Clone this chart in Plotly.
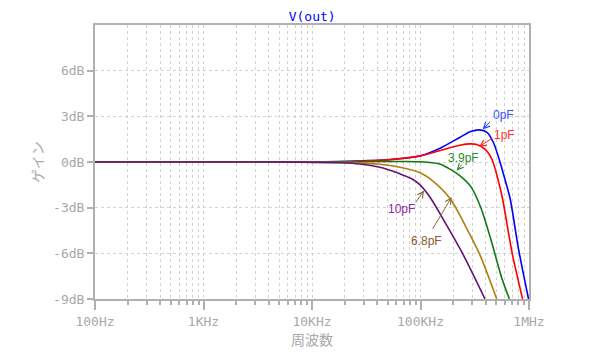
import math
import plotly.graph_objects as go

# ---- data (frequency in Hz, gain in dB) ----
f_0pF = [100, 1000, 10000, 30000, 50000, 100000, 150000, 230000, 290000, 350000, 410000, 470000, 540000, 620000, 670000, 800000, 990000]
g_0pF = [0, 0, 0, 0.08, 0.15, 0.41, 0.89, 1.61, 2.0, 2.11, 1.94, 1.28, 0.0, -1.5, -2.4, -5.7, -9.0]

f_1pF = [100, 1000, 10000, 30000, 50000, 100000, 150000, 230000, 290000, 330000, 400000, 460000, 520000, 570000, 700000, 873000]
g_1pF = [0, 0, 0, 0.07, 0.14, 0.40, 0.74, 1.10, 1.19, 1.15, 0.80, 0.10, -1.2, -2.4, -6.0, -9.0]

f_3p9pF = [100, 1000, 10000, 50000, 100000, 150000, 180000, 230000, 290000, 360000, 450000, 560000, 660000]
g_3p9pF = [0, 0, 0, 0.03, 0.02, -0.13, -0.4, -0.89, -1.6, -3.0, -5.2, -7.6, -9.0]

f_6p8pF = [100, 1000, 10000, 22400, 42400, 64700, 99000, 122000, 187000, 267000, 353000, 504000]
g_6p8pF = [0, 0, -0.01, -0.04, -0.15, -0.35, -0.7, -1.1, -2.4, -4.37, -6.1, -9.0]

f_10pF = [100, 1000, 7700, 18000, 27700, 42400, 64700, 83000, 99000, 122000, 174000, 248000, 393000]
g_10pF = [0, 0, -0.01, -0.05, -0.13, -0.35, -0.78, -1.1, -1.5, -2.3, -4.15, -6.1, -9.0]

x_tickvals = [100, 1000, 10000, 100000, 1000000]
x_ticktext = ["100Hz", "1KHz", "10KHz", "100KHz", "1MHz"]
y_tickvals = [-9, -6, -3, 0, 3, 6]
y_ticktext = ["-9dB", "-6dB", "-3dB", "0dB", "3dB", "6dB"]

# label texts and the point (Hz, dB) each label's arrow points at
label_text = ["0pF", "1pF", "3.9pF", "10pF", "6.8pF"]
label_f = [374000, 348000, 215000, 108000, 194000]
label_db = [2.15, 1.0, -0.57, -1.87, -2.3]

series = [
    ("0pF", f_0pF, g_0pF, "#0000ff"),
    ("1pF", f_1pF, g_1pF, "#ff0000"),
    ("3.9pF", f_3p9pF, g_3p9pF, "#117711"),
    ("6.8pF", f_6p8pF, g_6p8pF, "#b07d10"),
    ("10pF", f_10pF, g_10pF, "#661177"),
]

fig = go.Figure()
for name, f, g, c in series:
    fig.add_trace(go.Scatter(x=f, y=g, mode="lines", name=name,
                             line=dict(color=c, width=1.6, shape="spline", smoothing=0.8),
                             showlegend=False, hoverinfo="skip"))

minor_vals = [m * 10 ** d for d in range(2, 6) for m in range(2, 10)]

grid = "#d2d2d2"
gdash = "3px,3px"
axcol = "#b0b0b0"
tickfont = dict(family="DejaVu Sans Mono", size=13, color="#a8a8a8")

fig.update_xaxes(type="log", range=[2, 6], tickvals=x_tickvals, ticktext=x_ticktext,
                 automargin=False,
                 showline=True, linecolor=axcol, linewidth=2, mirror=True,
                 ticks="outside", ticklen=9, tickwidth=1.5, tickcolor=axcol,
                 showgrid=True, gridcolor=grid, griddash=gdash, gridwidth=1,
                 zeroline=False, tickfont=tickfont,
                 minor=dict(tickvals=minor_vals, ticks="outside", ticklen=4, tickcolor=axcol,
                            showgrid=True, gridcolor=grid, griddash=gdash, gridwidth=1),
                 title=dict(text="周波数", font=dict(family="Noto Sans CJK JP", size=14, color="#a8a8a8"),
                            standoff=6))
fig.update_yaxes(range=[-9, 9], tickvals=y_tickvals, ticktext=y_ticktext,
                 automargin=False,
                 showline=True, linecolor=axcol, linewidth=2, mirror=True,
                 ticks="outside", ticklen=6, tickwidth=1.5, tickcolor=axcol,
                 showgrid=True, gridcolor=grid, griddash=gdash, gridwidth=1,
                 zeroline=False, tickfont=tickfont,
                 title=dict(text="ゲイン", font=dict(family="Noto Sans CJK JP", size=14, color="#a8a8a8"),
                            standoff=6))

# styling per label: text colour, arrow colour, arrow tail offset (px), text offset (px)
label_style = [
    ("#3a55ff", "#2040ff", (9, -9), (21, 14.5)),
    ("#ff3030", "#ff2020", (14, -9.4), (25, 12)),
    ("#2e8a2e", "#2e8a2e", (6.6, -7.4), (6.6, 12.2)),
    ("#8a2aa0", "#8c6a40", (-9.3, 13.3), (-23, -18.8)),
    ("#8b5a2b", "#8c6a40", (-20, 33.4), (-25, -43.7)),
]
anns = []
for text, f, db, (tc, ac, (ax, ay), (xs, ys)) in zip(label_text, label_f, label_db, label_style):
    lx = math.log10(f)
    anns.append(dict(x=lx, y=db, xref="x", yref="y", text="", showarrow=True,
                     arrowhead=5, arrowsize=1.2, arrowwidth=1, arrowcolor=ac,
                     ax=ax, ay=ay, standoff=0, font=dict(size=1)))
    anns.append(dict(x=lx, y=db, xref="x", yref="y", text=text, showarrow=False,
                     xshift=xs, yshift=ys, xanchor="center", yanchor="middle",
                     font=dict(family="Liberation Sans", size=12, color=tc)))

fig.update_layout(
    width=600, height=361,
    margin=dict(l=87, r=79, t=17, b=70),
    paper_bgcolor="white", plot_bgcolor="white",
    title=dict(text="V(out)", x=0.507, xanchor="center", y=0.976, yanchor="middle",
               automargin=False,
               font=dict(family="DejaVu Sans Mono", size=13, color="#0000ff")),
    annotations=anns,
)

fig.write_html("out.html")
